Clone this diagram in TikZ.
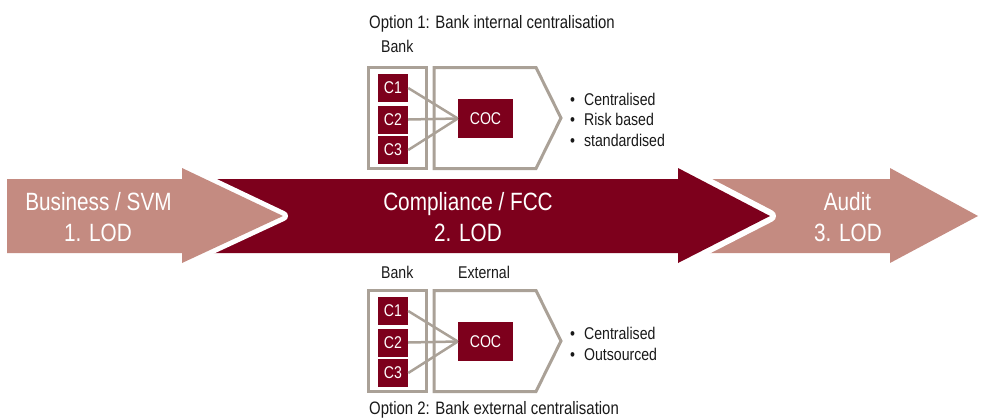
\documentclass[tikz,border=0pt]{standalone}
\usepackage{fontspec}
\setmainfont{Liberation Sans}[FakeStretch=0.83]
\definecolor{dred}{RGB}{125,0,28}
\definecolor{pinkc}{RGB}{196,139,129}
\definecolor{grayc}{RGB}{170,161,151}
\tikzset{
  big/.style={text=white, font=\fontsize{25}{30}\selectfont, inner sep=0pt, anchor=base},
  lbl/.style={text=black!90, font=\fontsize{17}{20}\selectfont, inner sep=0pt, anchor=base west},
  ttl/.style={text=black!90, font=\fontsize{18}{21}\selectfont, inner sep=0pt, anchor=base west},
  cbox/.style={fill=dred, text=white, minimum width=30pt, minimum height=28pt, inner sep=0pt, font=\fontsize{17}{19}\selectfont},
  cocbox/.style={fill=dred, text=white, minimum width=55pt, minimum height=39pt, inner sep=0pt, font=\fontsize{17}{19}\selectfont},
  bankbox/.style={draw=grayc, line width=3pt, minimum width=58pt, minimum height=101pt, inner sep=0pt},
  gline/.style={draw=grayc, line width=2.5pt},
  gframe/.style={draw=grayc, line width=3pt, line join=miter},
}
\newcommand\optblock[2]{%
  \node[bankbox] (#1bank) at (397.5,{#2+118}) {};
  \node[cbox] (#1c1) at (393,{#2+88}) {C1};
  \node[cbox] (#1c2) at (393,{#2+119.5}) {C2};
  \node[cbox] (#1c3) at (393,{#2+150}) {C3};
  \node[cocbox] (#1coc) at (485.5,{#2+118.5}) {COC};
  \draw[gframe] (434,{#2+67.5}) -- (536,{#2+67.5}) -- (561,{#2+118}) -- (536,{#2+168.5}) -- (434,{#2+168.5}) -- cycle;
  \draw[gline] (#1c1.east) -- (#1coc.west);
  \draw[gline] (#1c2.east) -- (#1coc.west);
  \draw[gline] (#1c3.east) -- (#1coc.west);
}
\begin{document}
\begin{tikzpicture}[x=1pt,y=-1pt]
\useasboundingbox (0,0) rectangle (983,418);
% right pink arrow
\fill[pinkc] (690,179) -- (890,179) -- (890,168) -- (978,216) -- (890,263) -- (890,253) -- (690,253) -- cycle;
% dark arrow
\draw[white, line width=12pt, line join=round] (200,179) -- (678,179) -- (678,168) -- (770,216) -- (678,263) -- (678,253) -- (200,253) -- cycle;
\fill[dred] (200,179) -- (678,179) -- (678,168) -- (770,216) -- (678,263) -- (678,253) -- (200,253) -- cycle;
% left pink arrow
\draw[white, line width=10pt, line join=round] (7,179) -- (182,179) -- (182,168) -- (283,216) -- (182,263) -- (182,253) -- (7,253) -- cycle;
\fill[pinkc] (7,179) -- (182,179) -- (182,168) -- (283,216) -- (182,263) -- (182,253) -- (7,253) -- cycle;

\node[big] (t1a) at (98.5,210) {Business / SVM};
\node[big] (t1b) at (98,241) {1. LOD};
\node[big] (t2a) at (468,210) {Compliance / FCC};
\node[big] (t2b) at (468,241) {2. LOD};
\node[big] (t3a) at (847.5,210) {Audit};
\node[big] (t3b) at (848,241) {3. LOD};

% option 1
\optblock{a}{0}
\node[ttl] (o1) at (369,28) {Option 1: Bank internal centralisation};
\node[lbl] (o1bank) at (381,52) {Bank};
\node[lbl] (o1b1) at (570,105) {\textbullet\hspace{9pt}Centralised};
\node[lbl] (o1b2) at (570,125.5) {\textbullet\hspace{9pt}Risk based};
\node[lbl] (o1b3) at (570,146) {\textbullet\hspace{9pt}standardised};

% option 2
\optblock{b}{223}
\node[lbl] (o2bank) at (381,278) {Bank};
\node[lbl] (o2ext) at (458,278) {External};
\node[lbl] (o2b1) at (570,339) {\textbullet\hspace{9pt}Centralised};
\node[lbl] (o2b2) at (570,360) {\textbullet\hspace{9pt}Outsourced};
\node[ttl] (o2) at (369,414) {Option 2: Bank external centralisation};
\end{tikzpicture}
\end{document}
